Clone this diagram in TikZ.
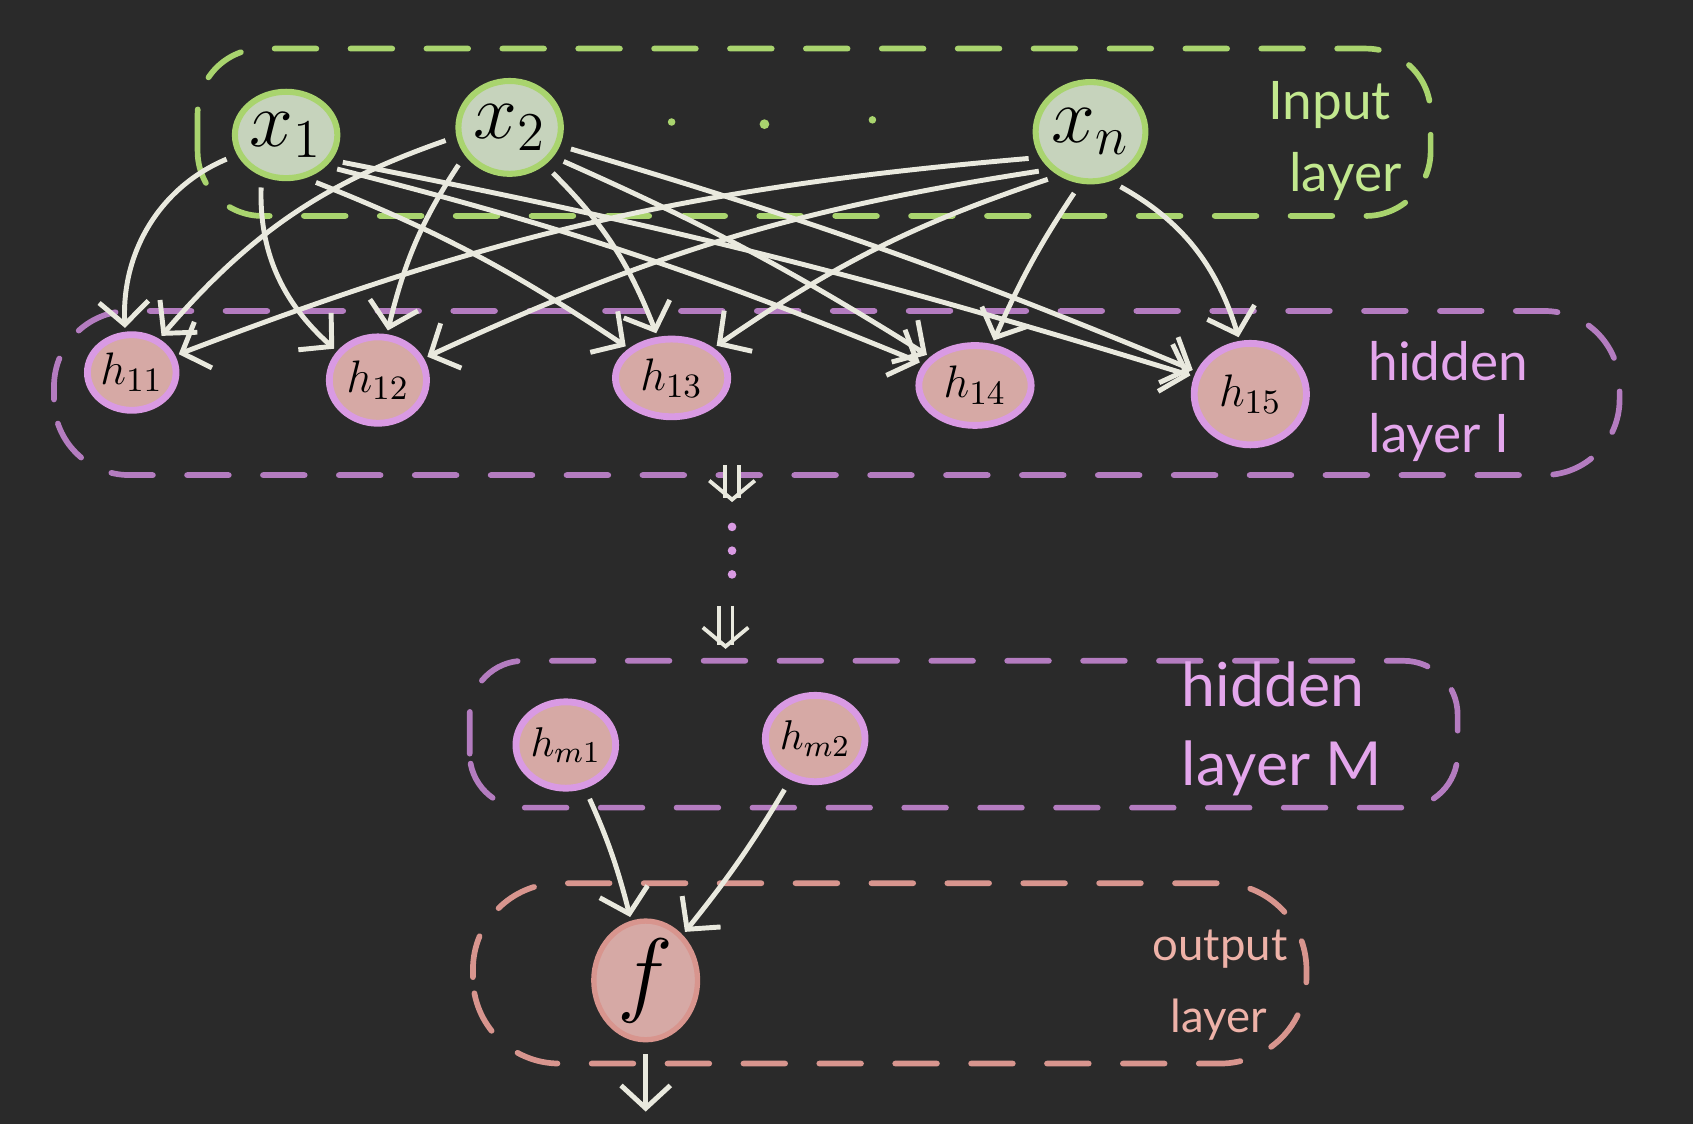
\documentclass[tikz,border=0pt]{standalone}
\usepackage{fontspec}
\setsansfont{Lato}
\usepackage{tikz}
\usetikzlibrary{shapes.geometric,arrows.meta,positioning}
\definecolor{NNBack}    {HTML}{2A2A2A}
\definecolor{NNChalk}   {HTML}{E9E9DE}
\definecolor{NNGreen}   {HTML}{A9D46E}
\definecolor{NNGreenLt} {HTML}{C6D3BC}
\definecolor{NNGreenTx} {HTML}{C2E88E}
\definecolor{NNPurple}  {HTML}{B47CC0}
\definecolor{NNLilac}   {HTML}{D99AE3}
\definecolor{NNLilacTx} {HTML}{E4A6EC}
\definecolor{NNPink}    {HTML}{D6A9A5}
\definecolor{NNSalmon}  {HTML}{D8958E}
\definecolor{NNSalmonTx}{HTML}{EEB2A8}

\begin{document}
\begin{tikzpicture}[
    innode/.style={ellipse,draw=NNGreen,fill=NNGreenLt,line width=1.6pt,inner sep=0pt,font=\fontsize{22}{22}\selectfont},
    hidnode/.style={ellipse,draw=NNLilac,fill=NNPink,line width=1.8pt,inner sep=0pt,font=\fontsize{13}{13}\selectfont},
    outnode/.style={ellipse,draw=NNSalmon,fill=NNPink,line width=1.4pt,inner sep=0pt,font=\fontsize{24}{24}\selectfont},
    wire/.style={NNChalk,line width=1.3pt,-{Straight Barb[length=6pt,width=13pt]},shorten >=1pt,shorten <=3pt},
    skipwire/.style={NNChalk,line width=1pt,double=NNBack,double distance=2.6pt,-{Straight Barb[length=5pt,width=12pt]}},
    grouping/.style={line width=1.5pt,dash pattern=on 11pt off 9pt,line cap=round},
    laytext/.style={font=\sffamily\fontsize{14}{19}\selectfont,align=left,anchor=west}
  ]
    % background
    \fill[NNBack] (0,0) rectangle (15.68,10.41);

    % layer boxes
    \draw[grouping,NNGreen,rounded corners=0.6cm]   (1.83,8.41) rectangle (13.25,9.96);
    \draw[grouping,NNPurple,rounded corners=0.7cm]  (0.50,6.01) rectangle (15.00,7.53);
    \draw[grouping,NNPurple,rounded corners=0.5cm]  (4.35,2.93) rectangle (13.50,4.29);
    \draw[grouping,NNSalmon,rounded corners=0.8cm]  (4.38,0.56) rectangle (12.10,2.23);

    % input layer
    \node[innode,minimum width=0.86cm,minimum height=0.80cm] (x1) at (2.65,9.16)  {$x_1$};
    \node[innode,minimum width=0.84cm,minimum height=0.86cm] (x2) at (4.72,9.23)  {$x_2$};
    \node[innode,minimum width=0.90cm,minimum height=0.92cm] (xn) at (10.10,9.19) {$x_n$};
    \fill[NNGreen] (6.22,9.28) circle (0.035);
    \fill[NNGreen] (7.08,9.26) circle (0.045);
    \fill[NNGreen] (8.08,9.30) circle (0.035);
    \node[laytext,text=NNGreenTx] (inlabel) at (11.62,9.10) {Input\\\hspace{0.4em}layer};

    % hidden layer 1
    \node[hidnode,minimum width=0.76cm,minimum height=0.70cm] (h11) at (1.22,6.96)  {$h_{11}$};
    \node[hidnode,minimum width=0.90cm,minimum height=0.80cm] (h12) at (3.50,6.89)  {$h_{12}$};
    \node[hidnode,minimum width=1.04cm,minimum height=0.72cm] (h13) at (6.22,6.91)  {$h_{13}$};
    \node[hidnode,minimum width=1.04cm,minimum height=0.74cm] (h14) at (9.03,6.84)  {$h_{14}$};
    \node[hidnode,minimum width=1.04cm,minimum height=0.94cm] (h15) at (11.58,6.76) {$h_{15}$};
    \node[laytext,text=NNLilacTx] (h1label) at (12.55,6.69) {hidden\\layer I};

    % x -> h1 connections
    \draw[wire] (x1.202) to[bend right=35] (h11);
    \draw[wire] (x1.239) to[bend right=25] (h12);
    \draw[wire] (x1.294) to[bend left=6]   (h13);
    \draw[wire] (x1.322) to[bend left=4]   (h14);
    \draw[wire] (x1.331) to[bend left=3]   (h15);
    \draw[wire] (x2.190) to[bend right=15] (h11);
    \draw[wire] (x2.212) to[bend right=10] (h12);
    \draw[wire] (x2.313) to[bend left=12]  (h13);
    \draw[wire] (x2.326) to[bend left=4]   (h14);
    \draw[wire] (x2.340) to[bend left=3]   (h15);
    \draw[wire] (xn.207) to[bend right=8]  (h11);
    \draw[wire] (xn.223) to[bend right=8]  (h12);
    \draw[wire] (xn.234) to[bend right=8]  (h13);
    \draw[wire] (xn.259) to[bend right=5]  (h14);
    \draw[wire] (xn.292) to[bend left=22]  (h15);

    % more hidden layers in between
    \coordinate (skipa) at (6.78,6.10);
    \coordinate (skipb) at (6.78,5.76);
    \coordinate (skipc) at (6.72,4.80);
    \coordinate (skipd) at (6.72,4.40);
    \draw[skipwire] (skipa) -- (skipb);
    \draw[skipwire] (skipc) -- (skipd);
    \fill[NNLilac] (6.78,5.53) circle (0.04);
    \fill[NNLilac] (6.78,5.31) circle (0.04);
    \fill[NNLilac] (6.78,5.09) circle (0.04);

    % hidden layer M
    \node[hidnode,minimum width=0.72cm,minimum height=0.80cm,font=\fontsize{11}{11}\selectfont] (hm1) at (5.24,3.51) {$h_{m1}$};
    \node[hidnode,minimum width=0.90cm,minimum height=0.80cm,font=\fontsize{11}{11}\selectfont] (hm2) at (7.55,3.57) {$h_{m2}$};
    \node[laytext,text=NNLilacTx,font=\sffamily\fontsize{16}{21}\selectfont] (hmlabel) at (10.82,3.66) {hidden\\layer M};

    % output layer
    \node[outnode,minimum width=0.96cm,minimum height=0.90cm] (f) at (5.98,1.33) {$f$};
    \node[laytext,text=NNSalmonTx,font=\sffamily\fontsize{12}{19}\selectfont] (outlabel) at (10.55,1.29) {output\\\hspace{0.4em}layer};
    \coordinate (fout) at (5.98,0.08);

    \draw[wire] (hm1) to[bend left=5]  (f);
    \draw[wire] (hm2) to[bend left=4]  (f);
    \draw[wire] (f) -- (fout);
  \end{tikzpicture}
\end{document}
